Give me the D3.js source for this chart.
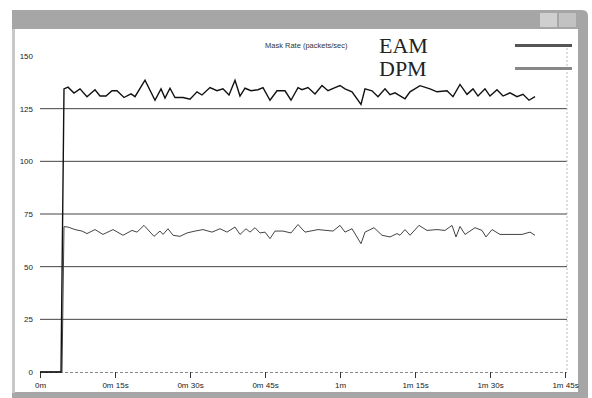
<!DOCTYPE html>
<html lang="en">
<head>
<meta charset="UTF-8">
<title>Mask Rate</title>
<script src="https://cdn.jsdelivr.net/npm/d3@7"></script>
<style>
  body { margin: 0; background: #fff; }
  svg { display: block; }
  .sans { font-family: "Liberation Sans", Arial, sans-serif; }
  .serif { font-family: "Liberation Serif", "Times New Roman", serif; }
</style>
</head>
<body>
<svg id="chart"></svg>
<script>
// time in seconds, rate in packets/sec
var eamTime = [0, 4.2, 4.8, 5.6, 6.8, 8, 9.4, 11, 12, 13.2, 14.4, 15.4, 16.8, 18.2, 19, 21, 23, 24.2, 25, 26, 27, 28.6, 30,
  31.4, 32.4, 34, 35.4, 36.6, 37.8, 39, 40, 41, 42.2, 43.6, 44.6, 46, 47.4, 49, 50.2, 51.6, 52.4, 53.6, 55, 56.4, 57.6,
  59, 60, 61, 62.4, 64.2, 65, 66.4, 67.6, 69, 70, 71, 73, 74, 76, 78, 79.4, 81.4, 82.6, 84, 85.4, 86.6, 87.6, 89, 90,
  91.4, 92.6, 94, 95.4, 96.6, 97.8, 99];
var eamRate = [0, 0, 134.4, 135.2, 132.4, 134.4, 130.7, 134, 131, 131, 133.5, 133.5, 130.3, 132, 130.7, 138.5, 129, 134.4, 130, 134.7, 130.3, 130.3, 129.5,
  133, 131.5, 135, 133.5, 134.4, 131.5, 138.5, 131, 134.7, 133.5, 134, 135, 129, 133.5, 133.5, 129, 135, 134, 135, 132, 136, 133.5,
  135, 136, 134.4, 133, 127, 134.4, 133.5, 130.7, 134.4, 131.6, 132.5, 129.7, 133, 135.9, 134.4, 133, 133.5, 130.7, 136.5, 131.8, 134.4, 131, 134.4, 131,
  134, 131, 132.5, 130.7, 131.8, 129, 130.7];

var dpmTime = [0, 4.4, 4.8, 5.6, 7, 8.4, 9.4, 11, 12.6, 14.6, 16.6, 18.4, 19.4, 20.8, 22.8, 24, 24.6, 25.6, 26.6, 28, 29.4,
  31, 32.6, 34.4, 36, 37.4, 39, 40, 41.2, 42, 43, 44, 45, 46, 47, 48.6, 50.2, 51.6, 53, 55.6, 58.6, 60, 61, 62.4, 64.2,
  65, 66.8, 68.4, 70, 71.4, 72, 73, 74, 75.8, 77.4, 79.4, 81, 82.4, 83.2, 84, 85, 87, 88.4, 89.2, 90.4, 92, 94.6, 96.4, 98, 99];
var dpmRate = [0, 0, 69, 68.8, 67.6, 66.9, 65.7, 67.6, 65.3, 67.6, 64.9, 67.2, 66.4, 69.6, 64.4, 66.9, 65.3, 68, 64.9, 64.4, 66,
  66.9, 67.6, 66.4, 68, 66.4, 68.8, 65.3, 68, 66.4, 68.5, 66, 66.4, 63.3, 66.9, 66.9, 66, 70, 66.4, 67.6, 66.9, 69.6, 66.4, 68, 60.9,
  66.4, 68.5, 64.9, 64.1, 65.7, 64.9, 67.6, 64.9, 69.6, 67.2, 67.6, 67.2, 69.6, 64.1, 69.1, 65.3, 68.5, 67.2, 64.1, 67.6, 65.3, 65.3, 65.3, 66.4, 64.9];

var xTicks = [0, 15, 30, 45, 60, 75, 90, 105];
var xTickLabels = ["0m", "0m 15s", "0m 30s", "0m 45s", "1m", "1m 15s", "1m 30s", "1m 45s"];
var yTicks = [0, 25, 50, 75, 100, 125, 150];
var seriesNames = ["EAM", "DPM"];

var width = 592, height = 398;
var svg = d3.select("#chart").attr("width", width).attr("height", height);

// window frame (grey, dithered look in the scan)
var frame = "#a6a6a6";
svg.append("rect").attr("x", 12).attr("y", 10).attr("width", 570).attr("height", 19).attr("fill", frame);
svg.append("path").attr("d", "M578,10H582Q588,10 588,16V396H578Z").attr("fill", frame);
svg.append("rect").attr("x", 12).attr("y", 392).attr("width", 576).attr("height", 6).attr("fill", frame);
svg.append("rect").attr("x", 12).attr("y", 29).attr("width", 3).attr("height", 364).attr("fill", "#c8c8c8");
svg.append("rect").attr("x", 540).attr("y", 13).attr("width", 17).attr("height", 14).attr("fill", "#cfcfcf");
svg.append("rect").attr("x", 559).attr("y", 13).attr("width", 17).attr("height", 14).attr("fill", "#c2c2c2");

var x = d3.scaleLinear().domain([0, 105]).range([40, 565]);
var y = d3.scaleLinear().domain([0, 150]).range([372, 56]);

// grid lines
svg.append("g").selectAll("line")
  .data(yTicks.filter(function(d) { return d > 0 && d < 150; }))
  .enter().append("line")
  .attr("x1", x(0)).attr("x2", 567)
  .attr("y1", function(d) { return y(d); })
  .attr("y2", function(d) { return y(d); })
  .attr("stroke", "#444").attr("stroke-width", 1);

// plot right edge
svg.append("line").attr("x1", 567).attr("x2", 567).attr("y1", 44).attr("y2", 372)
  .attr("stroke", "#bbb").attr("stroke-dasharray", "2,2");

// x axis
var xAxis = d3.axisBottom(x).tickValues(xTicks).tickSize(6)
  .tickFormat(function(d, i) { return xTickLabels[i]; });
var gx = svg.append("g").attr("transform", "translate(0," + y(0) + ")").call(xAxis);
gx.select(".domain").attr("stroke", "#888").attr("stroke-dasharray", "3,2").attr("d", "M40,0.5H567");
gx.selectAll(".tick line").attr("stroke", "#333");
gx.selectAll(".tick text").attr("class", "sans").attr("font-size", "8px").attr("fill", "#222").attr("dy", "0.9em");

// y axis labels
var yAxis = d3.axisLeft(y).tickValues(yTicks).tickSize(0).tickPadding(5);
var gy = svg.append("g").attr("transform", "translate(38,0)").call(yAxis);
gy.select(".domain").remove();
gy.selectAll(".tick text").attr("class", "sans").attr("font-size", "8px").attr("fill", "#222");

// series
var line = d3.line()
  .x(function(d) { return x(d[0]); })
  .y(function(d) { return y(d[1]); });
var eamData = d3.zip(eamTime, eamRate);
var dpmData = d3.zip(dpmTime, dpmRate);

svg.append("path").datum(dpmData).attr("d", line)
  .attr("fill", "none").attr("stroke", "#444").attr("stroke-width", 1);
svg.append("path").datum(eamData).attr("d", line)
  .attr("fill", "none").attr("stroke", "#111").attr("stroke-width", 1.4);

// title + legend
svg.append("text").attr("class", "sans").attr("x", 265).attr("y", 48).attr("font-size", "7.5px").attr("fill", "#333")
  .text("Mask Rate (packets/sec)");

var legend = svg.append("g").selectAll("g").data(seriesNames).enter().append("g")
  .attr("transform", function(d, i) { return "translate(0," + (i * 23) + ")"; });
legend.append("text").attr("class", "serif").attr("x", 379).attr("y", 53)
  .attr("font-size", "22px").attr("fill", "#222")
  .text(function(d) { return d; });
legend.append("rect").attr("x", 515).attr("y", 44).attr("width", 57).attr("height", 3)
  .attr("fill", function(d, i) { return i === 0 ? "#555" : "#888"; });
</script>
</body>
</html>
